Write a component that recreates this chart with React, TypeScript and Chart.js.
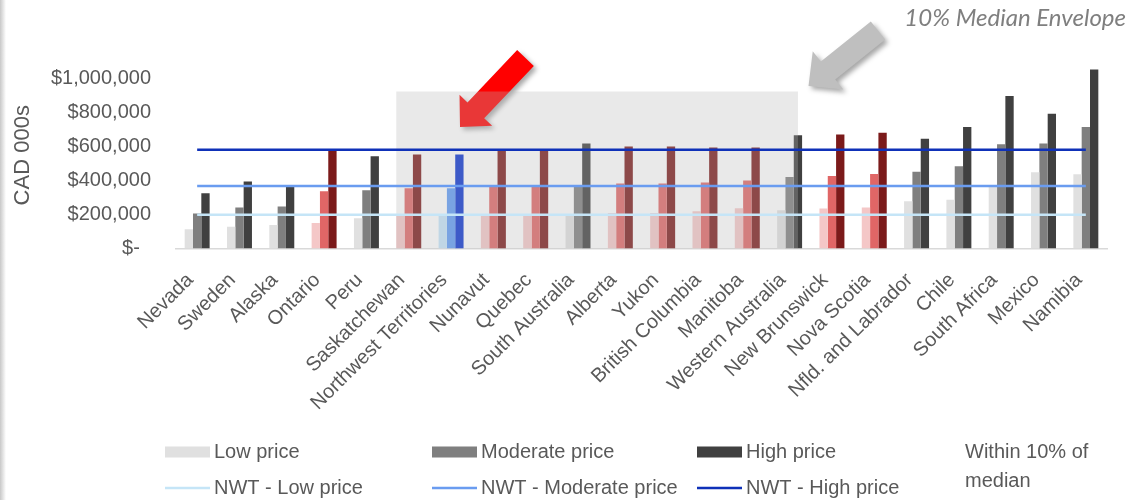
import React, { useEffect, useRef } from "react";
import { Chart, registerables } from "chart.js";

Chart.register(...registerables);

// ---------- data ----------
const categories = [
  "Nevada", "Sweden", "Alaska", "Ontario", "Peru", "Saskatchewan",
  "Northwest Territories", "Nunavut", "Quebec", "South Australia", "Alberta",
  "Yukon", "British Columbia", "Manitoba", "Western Australia", "New Brunswick",
  "Nova Scotia", "Nfld. and Labrador", "Chile", "South Africa", "Mexico", "Namibia",
];

// colour family of each jurisdiction's bars
const jurisdictionGroup = [
  "gray", "gray", "gray", "red", "gray", "red",
  "blue", "red", "red", "gray", "red",
  "red", "red", "red", "gray", "red",
  "red", "gray", "gray", "gray", "gray", "gray",
];

const lowPrice = [
  113000, 128000, 138000, 150000, 179000, 195000,
  198000, 193000, 193000, 197000, 209000,
  209000, 220000, 237000, 226000, 236000,
  242000, 279000, 287000, 364000, 450000, 438000,
];
const moderatePrice = [
  207000, 242000, 248000, 338000, 344000, 356000,
  356000, 364000, 364000, 364000, 383000,
  383000, 389000, 401000, 422000, 428000,
  440000, 452000, 485000, 615000, 620000, 717000,
];
const highPrice = [
  326000, 395000, 366000, 583000, 544000, 554000,
  554000, 579000, 579000, 619000, 601000,
  601000, 595000, 595000, 668000, 672000,
  683000, 648000, 717000, 899000, 795000, 1056000,
];

const nwtLowPrice = 199000;
const nwtModeratePrice = 368000;
const nwtHighPrice = 583000;

const envelopeFrom = "Saskatchewan";
const envelopeTo = "Western Australia";
const envelopeTop = 926000;

const yTickValues = [0, 200000, 400000, 600000, 800000, 1000000];
const yMax = 1100000;

// ---------- styles ----------
const FONT = "'Liberation Sans', Arial, sans-serif";
const TEXT = "#595959";

const palette: Record<string, { low: string; moderate: string; high: string }> = {
  gray: { low: "#e0e0e0", moderate: "#7f7f7f", high: "#404040" },
  red: { low: "#f4c7c7", moderate: "#e06666", high: "#7b1a1a" },
  blue: { low: "#c4e4fa", moderate: "#5f9bf5", high: "#0a33d0" },
};
const lineColors = { low: "#c5e5f7", moderate: "#6a9cf0", high: "#0f31b8" };

function fmtMoney(v: number) {
  if (v === 0) return "$-  ";
  return "$" + v.toLocaleString("en-US");
}

type Arrow = { tip: [number, number]; tail: [number, number]; head: number; headHalf: number; shaftHalf: number; color: string };
const arrows: Arrow[] = [
  { tip: [460, 127], tail: [525.5, 58], head: 23, headHalf: 22.5, shaftHalf: 11.5, color: "#ff0000" },
  { tip: [808.5, 86], tail: [878, 30.5], head: 25, headHalf: 24.5, shaftHalf: 11.5, color: "#bfbfbf" },
];

function drawArrow(ctx: CanvasRenderingContext2D, a: Arrow) {
  const [tx, ty] = a.tip;
  const [ex, ey] = a.tail;
  const len = Math.hypot(ex - tx, ey - ty);
  const ux = (ex - tx) / len, uy = (ey - ty) / len; // tip -> tail
  const px = -uy, py = ux;
  const bx = tx + ux * a.head, by = ty + uy * a.head;
  const pts: [number, number][] = [
    [tx, ty],
    [bx + px * a.headHalf, by + py * a.headHalf],
    [bx + px * a.shaftHalf, by + py * a.shaftHalf],
    [ex + px * a.shaftHalf, ey + py * a.shaftHalf],
    [ex - px * a.shaftHalf, ey - py * a.shaftHalf],
    [bx - px * a.shaftHalf, by - py * a.shaftHalf],
    [bx - px * a.headHalf, by - py * a.headHalf],
  ];
  ctx.save();
  ctx.shadowColor = "rgba(0,0,0,0.35)";
  ctx.shadowBlur = 5;
  ctx.shadowOffsetX = 3;
  ctx.shadowOffsetY = 3;
  ctx.fillStyle = a.color;
  ctx.beginPath();
  pts.forEach(([x, y], i) => (i ? ctx.lineTo(x, y) : ctx.moveTo(x, y)));
  ctx.closePath();
  ctx.fill();
  ctx.restore();
}

const envelopePlugin = {
  id: "envelope",
  afterDatasetDraw(chart: any, args: any) {
    if (args.index !== 0) return;
    const ctx = chart.ctx as CanvasRenderingContext2D;
    arrows.forEach((a) => drawArrow(ctx, a));
    const iFrom = categories.indexOf(envelopeFrom);
    const iTo = categories.indexOf(envelopeTo);
    const lowEl = chart.getDatasetMeta(0).data[iFrom];
    const highEl = chart.getDatasetMeta(2).data[iTo];
    const yScale = chart.scales.y;
    const x0 = lowEl.x - lowEl.width / 2;
    const x1 = highEl.x;
    const y0 = yScale.getPixelForValue(envelopeTop);
    const y1 = yScale.getPixelForValue(0);
    ctx.save();
    ctx.fillStyle = "rgba(183,183,183,0.3)";
    ctx.fillRect(x0, y0, x1 - x0, y1 - y0);
    ctx.restore();
  },
};

const legendPlugin = {
  id: "customLegend",
  afterDraw(chart: any) {
    const ctx = chart.ctx as CanvasRenderingContext2D;
    const ds = chart.data.datasets;
    ctx.save();
    // title annotation
    ctx.font = `italic 24px Lato, 'Open Sans', sans-serif`;
    ctx.fillStyle = "#7f7f7f";
    ctx.textAlign = "right";
    ctx.textBaseline = "middle";
    ctx.fillText("10% Median Envelope", 1126, 18);

    ctx.font = `20px ${FONT}`;
    ctx.fillStyle = TEXT;
    ctx.textAlign = "left";
    const cols = [165, 432, 697];
    const row1 = 452, row2 = 488;
    for (let i = 0; i < 3; i++) {
      const bar = ds[i];
      const line = ds[i + 3];
      const x = cols[i];
      ctx.fillStyle = palette.gray[["low", "moderate", "high"][i] as "low"];
      ctx.fillRect(x, row1 - 5.5, 45, 11);
      ctx.fillStyle = TEXT;
      ctx.fillText(bar.label, x + 49, row1);
      ctx.strokeStyle = line.borderColor;
      ctx.lineWidth = 2.5;
      ctx.beginPath();
      ctx.moveTo(x, row2);
      ctx.lineTo(x + 45, row2);
      ctx.stroke();
      ctx.fillText(line.label, x + 49, row2);
    }
    ctx.fillText("Within 10% of", 965, row1);
    ctx.fillText("median", 965, row1 + 29);
    ctx.restore();
  },
};

export default function App() {
  const canvasRef = useRef<HTMLCanvasElement | null>(null);

  useEffect(() => {
    document.body.style.margin = "0";
    const canvas = canvasRef.current;
    if (!canvas) return;
    const barCommon = { order: 1, categoryPercentage: 0.59, barPercentage: 1 };
    const lineCommon = { type: "line", order: 0, pointRadius: 0, borderWidth: 2.5, fill: false, tension: 0 };
    const chart = new Chart(canvas, {
      type: "bar",
      data: {
        labels: categories,
        datasets: [
          { ...barCommon, label: "Low price", data: lowPrice, backgroundColor: jurisdictionGroup.map((g) => palette[g].low) },
          { ...barCommon, label: "Moderate price", data: moderatePrice, backgroundColor: jurisdictionGroup.map((g) => palette[g].moderate) },
          { ...barCommon, label: "High price", data: highPrice, backgroundColor: jurisdictionGroup.map((g) => palette[g].high) },
          { ...lineCommon, label: "NWT - Low price", data: categories.map(() => nwtLowPrice), borderColor: lineColors.low },
          { ...lineCommon, label: "NWT - Moderate price", data: categories.map(() => nwtModeratePrice), borderColor: lineColors.moderate },
          { ...lineCommon, label: "NWT - High price", data: categories.map(() => nwtHighPrice), borderColor: lineColors.high },
        ] as any,
      },
      options: {
        animation: false,
        responsive: true,
        maintainAspectRatio: false,
        layout: { padding: { left: 0, right: 38, top: 62, bottom: 0 } },
        plugins: { legend: { display: false }, tooltip: { enabled: false }, title: { display: false } },
        scales: {
          x: {
            offset: true,
            afterFit: (s: any) => { s.height = 251.5; },
            grid: { display: false, drawTicks: false },
            border: { display: true, color: "#d9d9d9", width: 1.5 },
            ticks: { autoSkip: false, minRotation: 45, maxRotation: 45, padding: 20, labelOffset: -7, color: TEXT, font: { family: FONT, size: 20 } },
          },
          y: {
            min: 0,
            max: yMax,
            afterBuildTicks: (s: any) => { s.ticks = yTickValues.map((v) => ({ value: v })); },
            afterFit: (s: any) => { s.width = 176; },
            grid: { display: false, drawTicks: false },
            border: { display: false },
            ticks: { padding: 25, color: TEXT, font: { family: FONT, size: 20 }, callback: (v: any) => fmtMoney(Number(v)) },
            title: { display: true, text: "CAD 000s", color: TEXT, font: { family: FONT, size: 22 }, padding: { top: 10, bottom: 0 } },
          },
        },
      } as any,
      plugins: [envelopePlugin, legendPlugin],
    });
    return () => chart.destroy();
  }, []);

  return (
    <div style={{ position: "fixed", left: 0, top: 0, width: 1145, height: 500, background: "#fff" }}>
      <div style={{ position: "absolute", left: 0, top: 0, width: 6, height: 500, background: "linear-gradient(to right, #c8c8c8, #ffffff)" }} />
      <canvas ref={canvasRef} />
    </div>
  );
}
